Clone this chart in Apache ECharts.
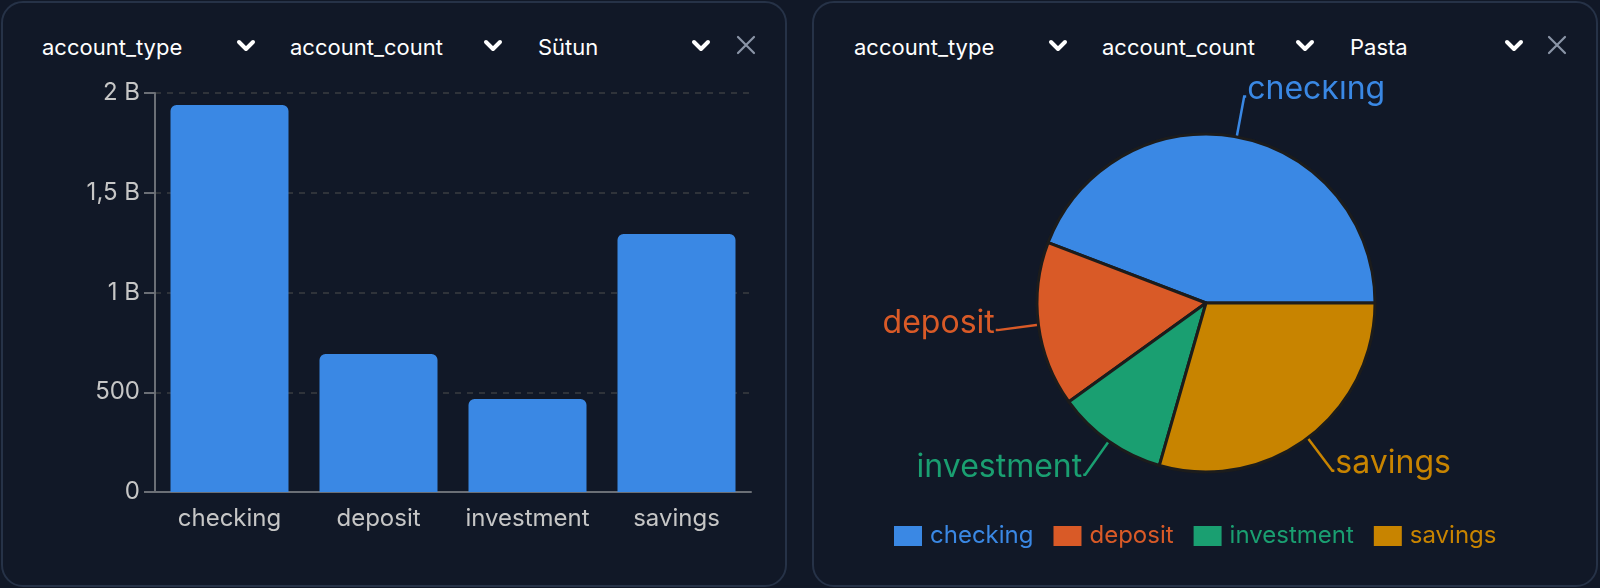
<!DOCTYPE html>
<html>
<head>
<meta charset="utf-8">
<script src="https://cdn.jsdelivr.net/npm/echarts@6/dist/echarts.min.js"></script>
<style>
  html, body { margin: 0; padding: 0; background: #111827; width: 1600px; height: 588px; overflow: hidden; font-family: Inter, "Noto Sans", sans-serif; }
  .card { position: absolute; top: 1px; width: 782px; height: 582px; border: 2px solid #263247; border-radius: 22px; background: #111827; }
  .hdr { position: absolute; color: #ffffff; font-size: 22px; line-height: 24px; top: 35px; white-space: nowrap; }
  .chev { position: absolute; top: 38px; width: 20px; height: 16px; }
  .close { position: absolute; top: 35px; width: 20px; height: 20px; }
  .chart { position: absolute; top: 80px; width: 800px; height: 508px; }
  .clip { position: absolute; top: 80px; width: 800px; height: 508px; overflow: hidden; }
</style>
</head>
<body>
<div class="card" style="left:1px;"></div>
<div class="card" style="left:812px;"></div>

<div class="hdr" style="left:42px;">account_type</div>
<div class="hdr" style="left:290px;">account_count</div>
<div class="hdr" style="left:538px;">Sütun</div>
<div class="hdr" style="left:854px;">account_type</div>
<div class="hdr" style="left:1102px;">account_count</div>
<div class="hdr" style="left:1350px;">Pasta</div>

<svg class="chev" style="left:236px;" viewBox="0 0 20 16"><polyline points="3,4 10,11 17,4" fill="none" stroke="#fff" stroke-width="4" stroke-linecap="round" stroke-linejoin="round"/></svg>
<svg class="chev" style="left:483px;" viewBox="0 0 20 16"><polyline points="3,4 10,11 17,4" fill="none" stroke="#fff" stroke-width="4" stroke-linecap="round" stroke-linejoin="round"/></svg>
<svg class="chev" style="left:691px;" viewBox="0 0 20 16"><polyline points="3,4 10,11 17,4" fill="none" stroke="#fff" stroke-width="4" stroke-linecap="round" stroke-linejoin="round"/></svg>
<svg class="close" style="left:736px;" viewBox="0 0 20 20"><path d="M2,2 L18,18 M18,2 L2,18" stroke="#8b95a7" stroke-width="2.2" stroke-linecap="round"/></svg>

<svg class="chev" style="left:1048px;" viewBox="0 0 20 16"><polyline points="3,4 10,11 17,4" fill="none" stroke="#fff" stroke-width="4" stroke-linecap="round" stroke-linejoin="round"/></svg>
<svg class="chev" style="left:1295px;" viewBox="0 0 20 16"><polyline points="3,4 10,11 17,4" fill="none" stroke="#fff" stroke-width="4" stroke-linecap="round" stroke-linejoin="round"/></svg>
<svg class="chev" style="left:1504px;" viewBox="0 0 20 16"><polyline points="3,4 10,11 17,4" fill="none" stroke="#fff" stroke-width="4" stroke-linecap="round" stroke-linejoin="round"/></svg>
<svg class="close" style="left:1547px;" viewBox="0 0 20 20"><path d="M2,2 L18,18 M18,2 L2,18" stroke="#8b95a7" stroke-width="2.2" stroke-linecap="round"/></svg>

<div id="bar" class="chart" style="left:0px;"></div>
<div class="clip" style="left:800px;">
  <div id="pie" style="position:absolute; left:0; top:-40px; width:800px; height:548px;"></div>
</div>

<script>
const categories = ['checking', 'deposit', 'investment', 'savings'];
const accountCount = [1940000000, 692000000, 466000000, 1293000000];
const sliceColors = ['#3a88e4', '#d95a27', '#1a9f71', '#c88400'];
const yTicks = [0, 500000000, 1000000000, 1500000000, 2000000000];

function fmt(v) {
  if (v === 0) return '0';
  if (v >= 1e9) return String(v / 1e9).replace('.', ',') + ' B';
  if (v >= 1e6) return String(v / 1e6).replace('.', ',');
  return String(v);
}

const font = 'Inter, "Noto Sans", sans-serif';

const bar = echarts.init(document.getElementById('bar'), null, { renderer: 'canvas' });
bar.setOption({
  backgroundColor: 'transparent',
  animation: false,
  grid: { left: 155, top: 13, width: 596, height: 399, containLabel: false },
  xAxis: {
    type: 'category',
    data: categories,
    axisLine: { lineStyle: { color: '#6b6f76', width: 2 } },
    axisTick: { alignWithLabel: true, length: 8, lineStyle: { color: '#6b6f76', width: 2 } },
    axisLabel: { color: '#c6c6c6', fontSize: 24, fontFamily: font, margin: 15, interval: 0 }
  },
  yAxis: {
    type: 'value',
    min: yTicks[0],
    max: yTicks[yTicks.length - 1],
    interval: yTicks[1] - yTicks[0],
    axisLine: { show: true, lineStyle: { color: '#6b6f76', width: 2 } },
    axisTick: { show: true, length: 11, lineStyle: { color: '#6b6f76', width: 2 } },
    axisLabel: { color: '#c6c6c6', fontSize: 24, fontFamily: font, margin: 15, formatter: fmt },
    splitLine: { show: true, lineStyle: { color: '#3a3d42', type: [6, 6], width: 1.5 } }
  },
  series: [{
    type: 'bar',
    data: accountCount,
    barWidth: 118,
    itemStyle: { color: sliceColors[0], borderRadius: [6, 6, 0, 0] }
  }]
});

const pie = echarts.init(document.getElementById('pie'), null, { renderer: 'canvas' });
pie.setOption({
  backgroundColor: 'transparent',
  animation: false,
  legend: {
    bottom: 35,
    left: 89,
    icon: 'rect',
    itemWidth: 28,
    itemHeight: 20,
    itemGap: 20,
    itemStyle: { borderWidth: 0 },
    textStyle: { fontSize: 24, fontFamily: font, padding: [0, 0, 0, 3] },
    data: categories.map((c, i) => ({ name: c, textStyle: { color: sliceColors[i] } }))
  },
  series: [{
    type: 'pie',
    center: [406, 263],
    radius: 169,
    startAngle: 0,
    clockwise: false,
    avoidLabelOverlap: true,
    itemStyle: { borderColor: '#1c1c1c', borderWidth: 3 },
    label: {
      show: true, position: 'outside', fontSize: 32, fontFamily: font, distanceToLabelLine: 1,
      formatter: '{b}\n{gap| }',
      rich: { gap: { fontSize: 2, lineHeight: 14, height: 14 } }
    },
    labelLine: { show: true, length: 41, length2: 2, lineStyle: { width: 2.5 } },
    data: categories.map((c, i) => ({
      name: c,
      value: accountCount[i],
      itemStyle: { color: sliceColors[i] },
      label: { color: sliceColors[i] },
      labelLine: { lineStyle: { color: sliceColors[i] } }
    }))
  }]
});
</script>
</body>
</html>
